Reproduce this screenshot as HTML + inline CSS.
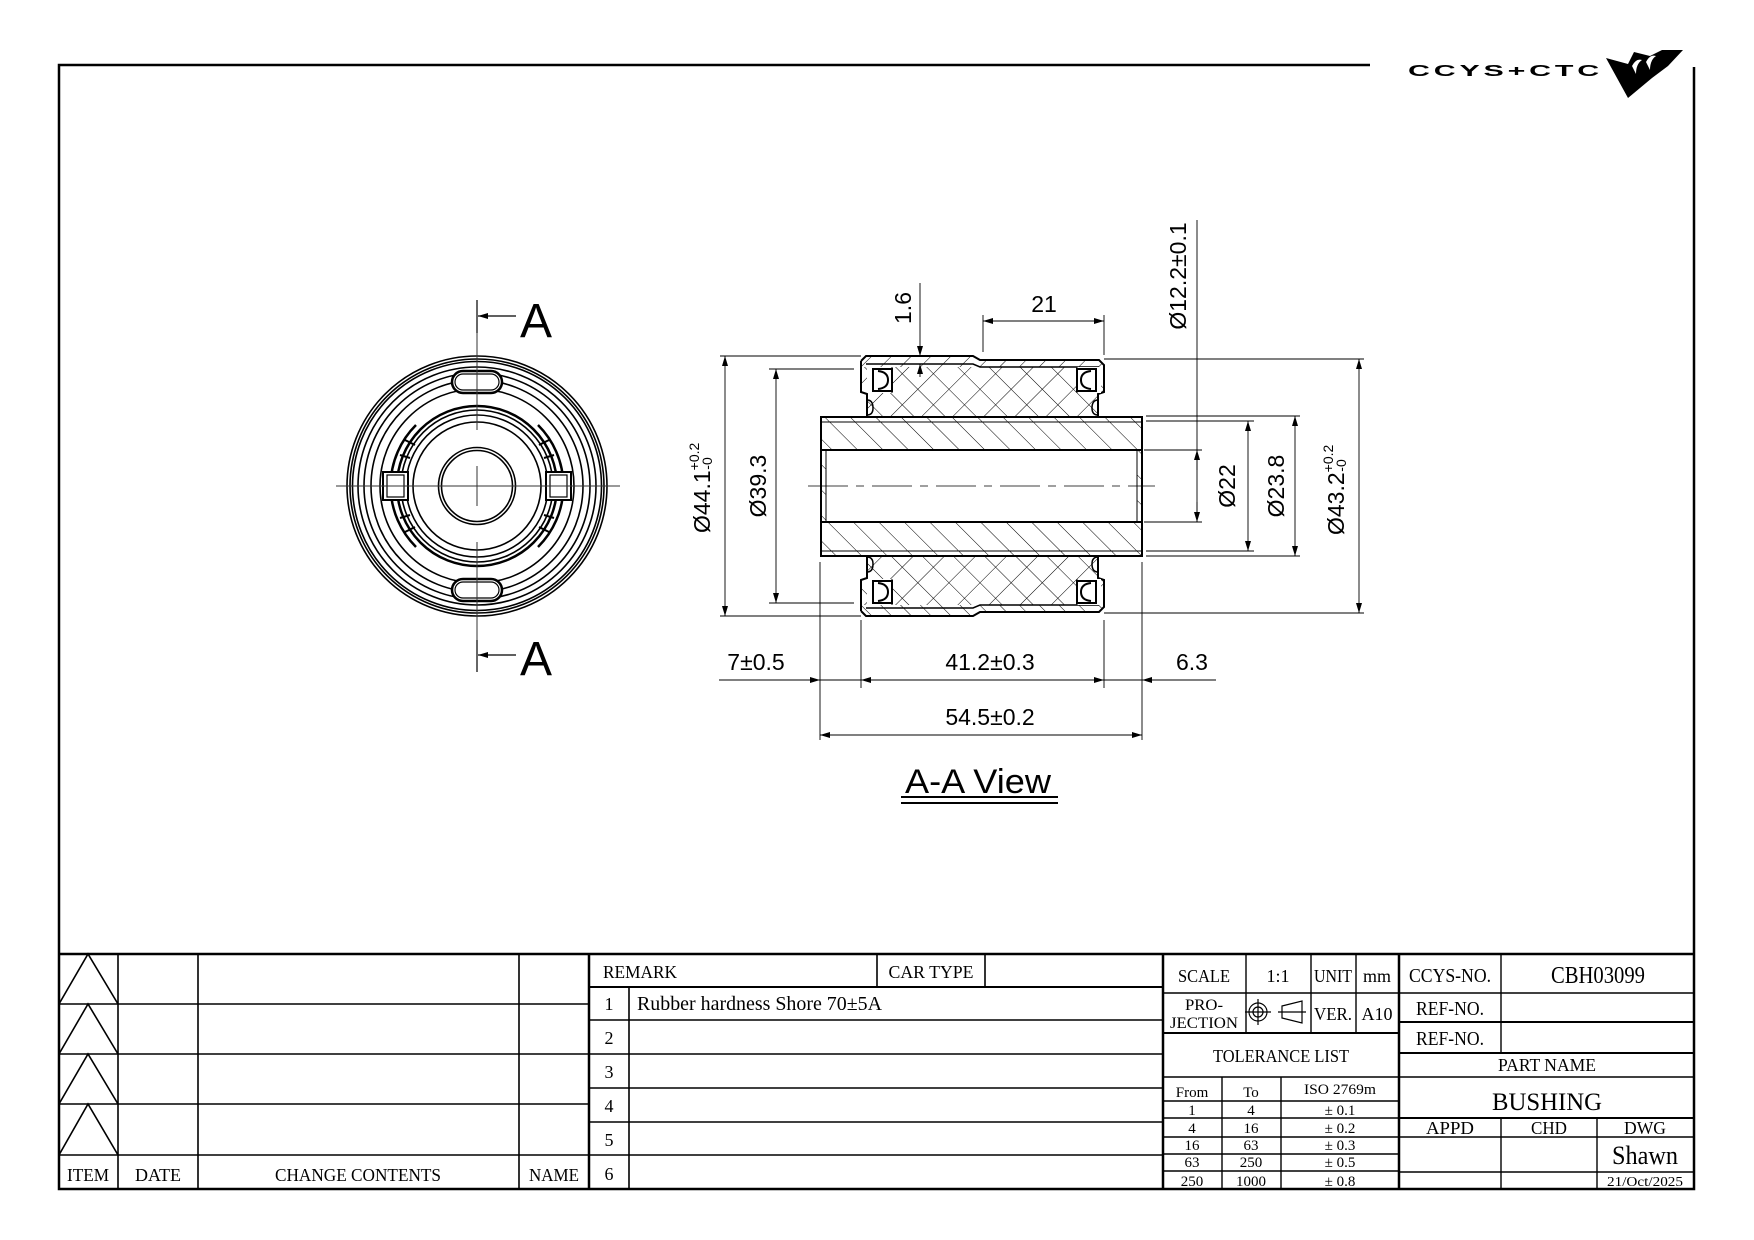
<!DOCTYPE html>
<html><head><meta charset="utf-8"><style>
html,body{margin:0;padding:0;background:#fff}
svg{display:block}
.s{font-family:"Liberation Sans",sans-serif}
.t{font-family:"Liberation Serif",serif;fill:#000}
</style></head><body>
<svg width="1754" height="1240" viewBox="0 0 1754 1240" xmlns="http://www.w3.org/2000/svg">
<defs>
<marker id="ar" viewBox="0 0 10 6" refX="10" refY="3" markerWidth="10" markerHeight="6" markerUnits="userSpaceOnUse" orient="auto-start-reverse"><path d="M0,0 L10,3 L0,6z" fill="#000"/></marker>
<pattern id="h1" width="18" height="18" patternUnits="userSpaceOnUse" patternTransform="rotate(-45)"><line x1="0" y1="0" x2="0" y2="18" stroke="#000" stroke-width="1"/></pattern>
<pattern id="h2" width="14" height="14" patternUnits="userSpaceOnUse" patternTransform="rotate(45)"><line x1="0" y1="0" x2="0" y2="14" stroke="#000" stroke-width="1"/></pattern>
<pattern id="cx" width="22" height="22" patternUnits="userSpaceOnUse" patternTransform="rotate(45)"><line x1="0" y1="0" x2="0" y2="22" stroke="#000" stroke-width="1"/><line x1="0" y1="0" x2="22" y2="0" stroke="#000" stroke-width="1"/></pattern>
<g id="half">
 <path d="M866,356 L973,356 L980,360 L1099,360 L1104,365 L1104,392 L1099,394 L1099,417 L866,417 L866,394 L861,392 L861,361 Z" fill="url(#cx)" stroke="none"/>
 <path d="M866,356 L973,356 L980,360 L1099,360 L1104,365 L1104,367 L861,367 L861,361 Z" fill="#fff"/>
 <path d="M866,356 L973,356 L980,360 L1099,360 L1104,365 L1104,367 L861,367 L861,361 Z" fill="url(#h2)"/>
 <path d="M861,361 L866,356 L973,356 L980,360 L1099,360 L1104,365 L1104,392 L1098,394 L1098,417 M861,361 L861,392 L867,394 L867,417" fill="none" stroke="#000" stroke-width="2"/>
 <path d="M866,364 L973,364 L980,367 L1099,367" fill="none" stroke="#000" stroke-width="1.5"/>
 <rect x="867" y="367" width="25" height="26" fill="#fff"/>
 <rect x="1077" y="367" width="24" height="26" fill="#fff"/>
 <rect x="873" y="369" width="19" height="22" fill="none" stroke="#000" stroke-width="2"/>
 <path d="M878,371 Q888,372 888,380 Q888,388 878,389" fill="none" stroke="#000" stroke-width="2"/>
 <rect x="1077" y="369" width="19" height="22" fill="none" stroke="#000" stroke-width="2"/>
 <path d="M1091,371 Q1081,372 1081,380 Q1081,388 1091,389" fill="none" stroke="#000" stroke-width="2"/>
 <path d="M867,400 q6,0 6,8 q0,7 -6,7" fill="none" stroke="#000" stroke-width="1.5"/>
 <path d="M1098,400 q-6,0 -6,8 q0,7 6,7" fill="none" stroke="#000" stroke-width="1.5"/>
 <line x1="892" y1="367" x2="892" y2="393" stroke="#000" stroke-width="1"/>
 <line x1="1077" y1="367" x2="1077" y2="393" stroke="#000" stroke-width="1"/>
</g>
</defs>
<rect width="1754" height="1240" fill="#fff"/>

<path d="M1370,65 L59,65 L59,1189 L1694,1189 L1694,67" fill="none" stroke="#000" stroke-width="2.5"/>
<text x="1408" y="76" class="s" font-size="16" font-weight="bold" textLength="195" lengthAdjust="spacingAndGlyphs" letter-spacing="2">CCYS+CTC</text>
<path d="M1606,58 L1628,64 L1634,52 L1650,56 L1662,50 L1683,50 L1668,66 L1660,72 L1652,78 L1628,98 Z" fill="#000"/>
<path d="M1632,66 q4,-8 10,-6 q-6,4 -6,14 z M1646,62 q4,-8 10,-6 q-6,4 -6,14 z" fill="#fff"/>

<g fill="none" stroke="#000">
 <g stroke-width="1.6">
 <circle cx="477" cy="486" r="130"/><circle cx="477" cy="486" r="127"/><circle cx="477" cy="486" r="124.5"/>
 <circle cx="477" cy="486" r="119"/><circle cx="477" cy="486" r="113"/><circle cx="477" cy="486" r="106"/>
 <circle cx="477" cy="486" r="97"/>
 <circle cx="477" cy="486" r="80" stroke-width="2.5"/><circle cx="477" cy="486" r="76"/><circle cx="477" cy="486" r="71"/><circle cx="477" cy="486" r="64"/>
 <circle cx="477" cy="486" r="38.5"/><circle cx="477" cy="486" r="35.5"/>
 </g>
 <g stroke-width="2.5">
 <path d="M416,425 A86,86 0 0,0 416,547"/><path d="M538,425 A86,86 0 0,1 538,547"/>
 </g>
 <g stroke-width="2">
 <path d="M405,440 l10,5 M400,455 l10,3 M400,518 l10,-3 M405,532 l10,-5"/>
 <path d="M549,440 l-10,5 M554,455 l-10,3 M554,518 l-10,-3 M549,532 l-10,-5"/>
 </g>
 <rect x="383" y="472" width="25" height="28" fill="#fff" stroke-width="2"/>
 <rect x="387" y="475" width="17" height="22" stroke-width="1.2"/>
 <rect x="546" y="472" width="25" height="28" fill="#fff" stroke-width="2"/>
 <rect x="550" y="475" width="17" height="22" stroke-width="1.2"/>
 <rect x="452" y="371" width="50" height="22" rx="11" fill="#fff" stroke-width="2.5"/>
 <rect x="455" y="374" width="44" height="16" rx="8" stroke-width="1.2"/>
 <rect x="452" y="579" width="50" height="22" rx="11" fill="#fff" stroke-width="2.5"/>
 <rect x="455" y="582" width="44" height="16" rx="8" stroke-width="1.2"/>
 <g stroke-width="1" stroke="#333">
 <line x1="336" y1="486" x2="620" y2="486"/>
 <line x1="477" y1="300" x2="477" y2="430"/><line x1="477" y1="466" x2="477" y2="506"/><line x1="477" y1="542" x2="477" y2="672"/>
 </g>
</g>
<g stroke="#000" stroke-width="1.2">
 <line x1="477" y1="300" x2="477" y2="333"/><line x1="478" y1="316" x2="516" y2="316" marker-start="url(#ar)"/>
 <line x1="477" y1="640" x2="477" y2="672"/><line x1="478" y1="655" x2="516" y2="655" marker-start="url(#ar)"/>
</g>
<text x="520" y="337" class="s" font-size="48">A</text>
<text x="520" y="675" class="s" font-size="48">A</text>

<rect x="821" y="417" width="321" height="139" fill="url(#h1)"/>
<rect x="826" y="450" width="311" height="72" fill="#fff"/>
<rect x="821" y="417" width="321" height="139" fill="none" stroke="#000" stroke-width="2"/>
<g stroke="#000" fill="none">
 <line x1="821" y1="450" x2="1142" y2="450" stroke-width="2"/><line x1="821" y1="522" x2="1142" y2="522" stroke-width="2"/>
 <line x1="821" y1="422" x2="1142" y2="422" stroke-width="1"/><line x1="821" y1="551" x2="1142" y2="551" stroke-width="1"/>
 <line x1="826" y1="450" x2="826" y2="522" stroke-width="1"/><line x1="1137" y1="450" x2="1137" y2="522" stroke-width="1"/>
</g>
<use href="#half"/>
<use href="#half" transform="translate(0,972) scale(1,-1)"/>
<line x1="808" y1="486" x2="1155" y2="486" stroke="#000" stroke-width="0.8" stroke-dasharray="40,8,8,8"/>

<g stroke="#000" stroke-width="0.9" fill="none">
 <line x1="720" y1="356" x2="861" y2="356"/><line x1="720" y1="616" x2="861" y2="616"/>
 <line x1="769" y1="369" x2="854" y2="369"/><line x1="769" y1="603" x2="854" y2="603"/>
 <line x1="983" y1="315" x2="983" y2="352"/><line x1="1104" y1="315" x2="1104" y2="355"/>
 <line x1="1144" y1="450" x2="1202" y2="450"/><line x1="1144" y1="522" x2="1202" y2="522"/>
 <line x1="1146" y1="421" x2="1254" y2="421"/><line x1="1146" y1="551" x2="1254" y2="551"/>
 <line x1="1146" y1="416" x2="1300" y2="416"/><line x1="1146" y1="556" x2="1300" y2="556"/>
 <line x1="1104" y1="359" x2="1364" y2="359"/><line x1="1104" y1="613" x2="1364" y2="613"/>
 <line x1="820" y1="562" x2="820" y2="740"/><line x1="861" y1="620" x2="861" y2="688"/>
 <line x1="1104" y1="620" x2="1104" y2="688"/><line x1="1142" y1="562" x2="1142" y2="740"/>
 <line x1="725" y1="356" x2="725" y2="616" marker-start="url(#ar)" marker-end="url(#ar)"/>
 <line x1="776" y1="369" x2="776" y2="603" marker-start="url(#ar)" marker-end="url(#ar)"/>
 <line x1="920" y1="283" x2="920" y2="356" marker-end="url(#ar)"/>
 <line x1="920" y1="377" x2="920" y2="364" marker-end="url(#ar)"/>
 <line x1="983" y1="321" x2="1104" y2="321" marker-start="url(#ar)" marker-end="url(#ar)"/>
 <line x1="1197" y1="220" x2="1197" y2="522"/>
 <line x1="1197" y1="470" x2="1197" y2="450" marker-end="url(#ar)"/>
 <line x1="1197" y1="502" x2="1197" y2="522" marker-end="url(#ar)"/>
 <line x1="1248" y1="421" x2="1248" y2="551" marker-start="url(#ar)" marker-end="url(#ar)"/>
 <line x1="1295" y1="416" x2="1295" y2="556" marker-start="url(#ar)" marker-end="url(#ar)"/>
 <line x1="1359" y1="359" x2="1359" y2="613" marker-start="url(#ar)" marker-end="url(#ar)"/>
 <line x1="719" y1="680" x2="820" y2="680" marker-end="url(#ar)"/>
 <line x1="820" y1="680" x2="861" y2="680"/>
 <line x1="861" y1="680" x2="1104" y2="680" marker-start="url(#ar)" marker-end="url(#ar)"/>
 <line x1="1104" y1="680" x2="1142" y2="680"/>
 <line x1="1216" y1="680" x2="1142" y2="680" marker-end="url(#ar)"/>
 <line x1="820" y1="735" x2="1142" y2="735" marker-start="url(#ar)" marker-end="url(#ar)"/>
</g>
<g class="s" font-size="23" fill="#000">
 <text x="756" y="670" text-anchor="middle">7±0.5</text>
 <text x="990" y="670" text-anchor="middle">41.2±0.3</text>
 <text x="1192" y="670" text-anchor="middle">6.3</text>
 <text x="990" y="725" text-anchor="middle">54.5±0.2</text>
 <text x="1044" y="312" text-anchor="middle">21</text>
 <text transform="translate(911,308) rotate(-90)" text-anchor="middle">1.6</text>
 <text transform="translate(1186,276) rotate(-90)" text-anchor="middle">Ø12.2±0.1</text>
 <text transform="translate(766,486) rotate(-90)" text-anchor="middle">Ø39.3</text>
 <text transform="translate(1235,486) rotate(-90)" text-anchor="middle">Ø22</text>
 <text transform="translate(1284,486) rotate(-90)" text-anchor="middle">Ø23.8</text>
 <text transform="translate(710,533) rotate(-90)">Ø44.1<tspan font-size="14" dy="-11">+0.2</tspan><tspan font-size="14" dx="-27" dy="13">-0</tspan></text>
 <text transform="translate(1344,535) rotate(-90)">Ø43.2<tspan font-size="14" dy="-11">+0.2</tspan><tspan font-size="14" dx="-27" dy="13">-0</tspan></text>
</g>
<text x="978" y="793" class="s" font-size="34" text-anchor="middle" textLength="146" lengthAdjust="spacingAndGlyphs">A-A View</text>
<line x1="901" y1="797" x2="1058" y2="797" stroke="#000" stroke-width="2"/>
<line x1="901" y1="803" x2="1058" y2="803" stroke="#000" stroke-width="2"/>

<g stroke="#000" fill="none">
 <line x1="59" y1="954" x2="1694" y2="954" stroke-width="2.5"/>
 <g stroke-width="1.6">
 <line x1="118" y1="954" x2="118" y2="1189"/><line x1="198" y1="954" x2="198" y2="1189"/>
 <line x1="519" y1="954" x2="519" y2="1189"/><line x1="589" y1="954" x2="589" y2="1189" stroke-width="2.5"/>
 <line x1="59" y1="1004" x2="589" y2="1004"/><line x1="59" y1="1054" x2="589" y2="1054"/>
 <line x1="59" y1="1104" x2="589" y2="1104"/><line x1="59" y1="1155" x2="589" y2="1155"/>
 <path d="M59,1004 L88,954 L118,1004 M59,1054 L88,1004 L118,1054 M59,1104 L88,1054 L118,1104 M59,1155 L88,1104 L118,1155"/>
 </g>
 <g stroke-width="1.6">
 <line x1="629" y1="987" x2="629" y2="1189"/>
 <line x1="877" y1="954" x2="877" y2="987"/><line x1="985" y1="954" x2="985" y2="987"/>
 <line x1="589" y1="987" x2="1163" y2="987" stroke-width="2"/>
 <line x1="589" y1="1020" x2="1163" y2="1020"/><line x1="589" y1="1054" x2="1163" y2="1054"/>
 <line x1="589" y1="1088" x2="1163" y2="1088"/><line x1="589" y1="1122" x2="1163" y2="1122"/>
 <line x1="589" y1="1155" x2="1163" y2="1155"/>
 <line x1="1163" y1="954" x2="1163" y2="1189" stroke-width="2.5"/>
 </g>
 <g stroke-width="1.4">
 <line x1="1246" y1="954" x2="1246" y2="1033"/><line x1="1311" y1="954" x2="1311" y2="1033"/><line x1="1356" y1="954" x2="1356" y2="1033"/>
 <line x1="1163" y1="993" x2="1399" y2="993"/><line x1="1163" y1="1033" x2="1399" y2="1033" stroke-width="2"/>
 <line x1="1163" y1="1077" x2="1399" y2="1077"/>
 <line x1="1222" y1="1077" x2="1222" y2="1189"/><line x1="1281" y1="1077" x2="1281" y2="1189"/>
 <line x1="1163" y1="1101" x2="1399" y2="1101"/><line x1="1163" y1="1118" x2="1399" y2="1118"/>
 <line x1="1163" y1="1137" x2="1399" y2="1137"/><line x1="1163" y1="1154" x2="1399" y2="1154"/>
 <line x1="1163" y1="1171" x2="1399" y2="1171"/>
 <line x1="1399" y1="954" x2="1399" y2="1189" stroke-width="2.5"/>
 </g>
 <g stroke-width="1.4">
 <line x1="1501" y1="954" x2="1501" y2="1053"/>
 <line x1="1399" y1="993" x2="1694" y2="993"/><line x1="1399" y1="1022" x2="1694" y2="1022" stroke-width="2"/>
 <line x1="1399" y1="1053" x2="1694" y2="1053" stroke-width="2"/><line x1="1399" y1="1077" x2="1694" y2="1077"/>
 <line x1="1399" y1="1118" x2="1694" y2="1118" stroke-width="2"/><line x1="1399" y1="1137" x2="1694" y2="1137"/>
 <line x1="1399" y1="1172" x2="1694" y2="1172"/>
 <line x1="1501" y1="1118" x2="1501" y2="1189"/><line x1="1597" y1="1118" x2="1597" y2="1189"/>
 </g>
 <g stroke-width="1.2">
 <circle cx="1258" cy="1012" r="9"/><circle cx="1258" cy="1012" r="5"/>
 <line x1="1245" y1="1012" x2="1271" y2="1012"/><line x1="1258" y1="999" x2="1258" y2="1025"/>
 <path d="M1282,1006 L1302,1001 L1302,1023 L1282,1018 Z"/><line x1="1278" y1="1012" x2="1306" y2="1012"/>
 </g>
</g>
<g class="t" font-size="18">
 <text x="88" y="1181" text-anchor="middle" textLength="42" lengthAdjust="spacingAndGlyphs">ITEM</text>
 <text x="158" y="1181" text-anchor="middle" textLength="46" lengthAdjust="spacingAndGlyphs">DATE</text>
 <text x="358" y="1181" text-anchor="middle" textLength="166" lengthAdjust="spacingAndGlyphs">CHANGE CONTENTS</text>
 <text x="554" y="1181" text-anchor="middle" textLength="50" lengthAdjust="spacingAndGlyphs">NAME</text>
 <text x="603" y="978" textLength="74" lengthAdjust="spacingAndGlyphs">REMARK</text>
 <text x="931" y="978" text-anchor="middle" textLength="85" lengthAdjust="spacingAndGlyphs">CAR TYPE</text>
 <text x="609" y="1010" text-anchor="middle">1</text>
 <text x="609" y="1044" text-anchor="middle">2</text>
 <text x="609" y="1078" text-anchor="middle">3</text>
 <text x="609" y="1112" text-anchor="middle">4</text>
 <text x="609" y="1146" text-anchor="middle">5</text>
 <text x="609" y="1180" text-anchor="middle">6</text>
 <text x="637" y="1010" font-size="20" textLength="245" lengthAdjust="spacingAndGlyphs">Rubber hardness Shore 70±5A</text>
 <text x="1204" y="982" text-anchor="middle" textLength="52" lengthAdjust="spacingAndGlyphs">SCALE</text>
 <text x="1278" y="982" text-anchor="middle">1:1</text>
 <text x="1333" y="982" text-anchor="middle" textLength="38" lengthAdjust="spacingAndGlyphs">UNIT</text>
 <text x="1377" y="982" text-anchor="middle">mm</text>
 <text x="1204" y="1010" text-anchor="middle" font-size="16" textLength="38" lengthAdjust="spacingAndGlyphs">PRO-</text>
 <text x="1204" y="1028" text-anchor="middle" font-size="16" textLength="68" lengthAdjust="spacingAndGlyphs">JECTION</text>
 <text x="1333" y="1020" text-anchor="middle" textLength="38" lengthAdjust="spacingAndGlyphs">VER.</text>
 <text x="1377" y="1020" text-anchor="middle">A10</text>
 <text x="1281" y="1062" text-anchor="middle" textLength="136" lengthAdjust="spacingAndGlyphs">TOLERANCE LIST</text>
 <g font-size="15">
 <text x="1192" y="1097" text-anchor="middle">From</text><text x="1251" y="1097" text-anchor="middle">To</text>
 <text x="1340" y="1094" text-anchor="middle" textLength="72" lengthAdjust="spacingAndGlyphs">ISO 2769m</text>
 <text x="1192" y="1115" text-anchor="middle">1</text><text x="1251" y="1115" text-anchor="middle">4</text><text x="1340" y="1115" text-anchor="middle">± 0.1</text>
 <text x="1192" y="1133" text-anchor="middle">4</text><text x="1251" y="1133" text-anchor="middle">16</text><text x="1340" y="1133" text-anchor="middle">± 0.2</text>
 <text x="1192" y="1150" text-anchor="middle">16</text><text x="1251" y="1150" text-anchor="middle">63</text><text x="1340" y="1150" text-anchor="middle">± 0.3</text>
 <text x="1192" y="1167" text-anchor="middle">63</text><text x="1251" y="1167" text-anchor="middle">250</text><text x="1340" y="1167" text-anchor="middle">± 0.5</text>
 <text x="1192" y="1186" text-anchor="middle">250</text><text x="1251" y="1186" text-anchor="middle">1000</text><text x="1340" y="1186" text-anchor="middle">± 0.8</text>
 </g>
 <text x="1450" y="982" text-anchor="middle" font-size="20" textLength="82" lengthAdjust="spacingAndGlyphs">CCYS-NO.</text>
 <text x="1598" y="983" text-anchor="middle" font-size="24" textLength="94" lengthAdjust="spacingAndGlyphs">CBH03099</text>
 <text x="1450" y="1015" text-anchor="middle" font-size="20" textLength="68" lengthAdjust="spacingAndGlyphs">REF-NO.</text>
 <text x="1450" y="1045" text-anchor="middle" font-size="20" textLength="68" lengthAdjust="spacingAndGlyphs">REF-NO.</text>
 <text x="1547" y="1071" text-anchor="middle" textLength="98" lengthAdjust="spacingAndGlyphs">PART NAME</text>
 <text x="1547" y="1110" text-anchor="middle" font-size="25" textLength="110" lengthAdjust="spacingAndGlyphs">BUSHING</text>
 <text x="1450" y="1134" text-anchor="middle" textLength="48" lengthAdjust="spacingAndGlyphs">APPD</text>
 <text x="1549" y="1134" text-anchor="middle" textLength="36" lengthAdjust="spacingAndGlyphs">CHD</text>
 <text x="1645" y="1134" text-anchor="middle" textLength="42" lengthAdjust="spacingAndGlyphs">DWG</text>
 <text x="1645" y="1164" text-anchor="middle" font-size="26" textLength="66" lengthAdjust="spacingAndGlyphs">Shawn</text>
 <text x="1645" y="1186" text-anchor="middle" font-size="14" textLength="76" lengthAdjust="spacingAndGlyphs">21/Oct/2025</text>
</g>
</svg>
</body></html>
